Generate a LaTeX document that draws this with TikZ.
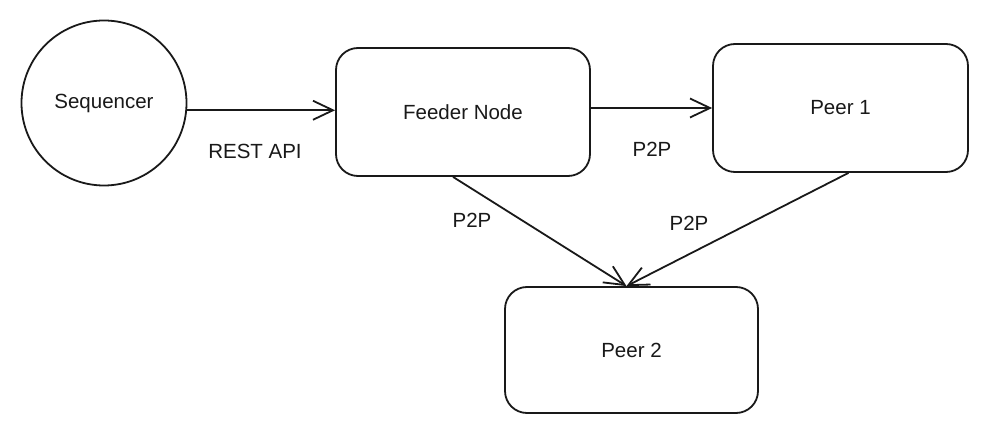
\documentclass[tikz,border=0pt]{standalone}
\usepackage{fontspec}
\setmainfont{Liberation Sans}
\usetikzlibrary{arrows.meta}
\begin{document}
\begin{tikzpicture}[x=1pt,y=-1pt,
  every node/.style={font=\fontsize{20.5}{24}\selectfont, text=black!90},
  shapeline/.style={draw=black!90, line width=1.8pt},
  circ/.style={shapeline, circle, minimum size=165pt, inner sep=0pt},
  box/.style={shapeline, rectangle, rounded corners=22pt, minimum width=254pt, minimum height=128pt, inner sep=0pt},
  conn/.style={draw=black!90, line width=1.8pt, -{Straight Barb[length=20pt,width=19pt,line width=1.8pt]}},
  lbl/.style={inner sep=0pt}]
\useasboundingbox (0,0) rectangle (997,430);
\node[circ] (seq) at (104,103) {Sequencer};
\node[box] (feeder) at (463,112) {Feeder Node};
\node[box, minimum width=255pt] (peer1) at (840.5,108) {Peer 1};
\node[box, minimum width=253pt, minimum height=126pt] (peer2) at (631.5,350) {Peer 2};
\coordinate (s1) at (seq.-5);
\draw[conn] (s1) -- (s1 -| feeder.west);
\coordinate (f1) at ([yshift=4pt]feeder.east);
\draw[conn] (f1) -- (f1 -| peer1.west);
\coordinate (tip) at ([xshift=-5pt]peer2.north);
\draw[conn] ([xshift=-10pt]feeder.south) -- (tip);
\draw[conn] ([xshift=8pt]peer1.south) -- (tip);
\node[lbl] (l1) at (255,151) {REST API};
\node[lbl] (l2) at (652,149) {P2P};
\node[lbl] (l3) at (472,220) {P2P};
\node[lbl] (l4) at (689,223) {P2P};
\end{tikzpicture}
\end{document}
